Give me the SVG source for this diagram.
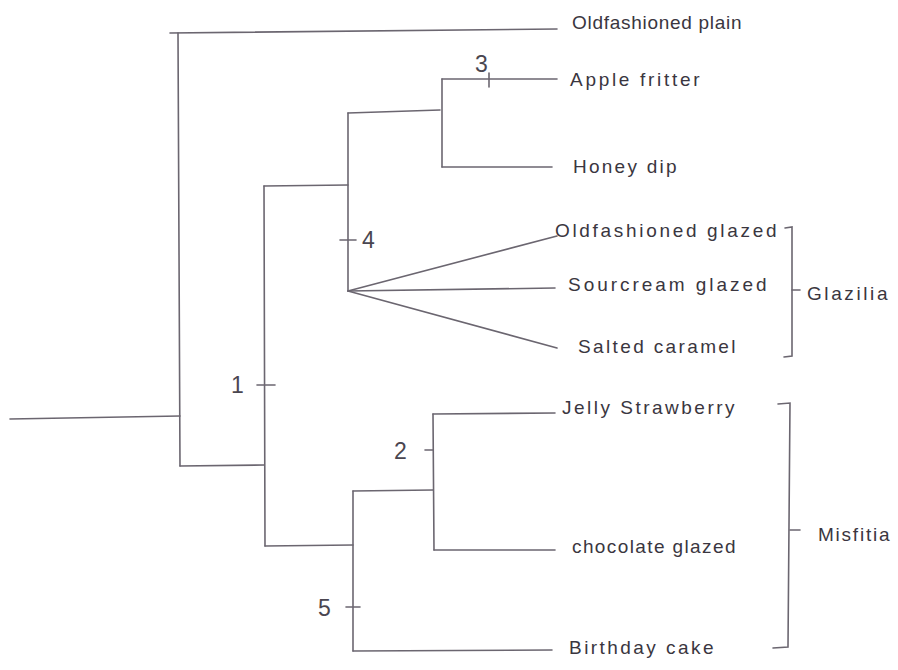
<svg xmlns="http://www.w3.org/2000/svg" width="898" height="670" viewBox="0 0 898 670">
<style>
.ln{stroke:#6b6670;stroke-width:1.6;fill:none;stroke-linecap:round}
.t{font-family:"Liberation Sans","DejaVu Sans",sans-serif;font-size:19px;fill:#3a3640;letter-spacing:0.5px}
.n{font-family:"Liberation Sans","DejaVu Sans",sans-serif;font-size:23px;fill:#4a4650}
</style>
<rect width="898" height="670" fill="#ffffff"/>
<g id="connectors" class="ln">
<path d="M10 419 L180 416"/>
<path d="M170 33 L557 29"/>
<path d="M178 33 L180 466"/>
<path d="M180 466 L264 465"/>
<path d="M264 186 L265 546"/>
<path d="M264 186 L348 185"/>
<path d="M257 385 L275 385"/>
<path d="M348 113 L348 291"/>
<path d="M348 113 L440 110"/>
<path d="M442 79 L442 167"/>
<path d="M442 79 L557 79"/>
<path d="M489 73 L489 87"/>
<path d="M442 167 L552 167"/>
<path d="M340 240 L356 240"/>
<path d="M348 291 L557 236"/>
<path d="M348 291 L555 288"/>
<path d="M348 291 L557 348"/>
<path d="M265 546 L353 545"/>
<path d="M353 491 L353 651"/>
<path d="M346 607 L360 607"/>
<path d="M353 491 L433 490"/>
<path d="M433 414 L434 550"/>
<path d="M425 450 L433 450"/>
<path d="M433 414 L555 413"/>
<path d="M434 550 L555 550"/>
<path d="M353 651 L552 650"/>
</g>
<g id="glazilia" class="ln">
<path d="M785 228 L792 227 L792 356 L784 357"/>
<path d="M792 290 L800 290"/>
</g>
<g id="misfitia" class="ln">
<path d="M778 404 L790 403 L788 647 L773 648"/>
<path d="M790 530 L800 530"/>
</g>
<g id="labels">
<text class="t" x="572" y="29" textLength="170">Oldfashioned plain</text>
<text class="t" x="570" y="86" textLength="130">Apple fritter</text>
<text class="t" x="573" y="173" textLength="104">Honey dip</text>
<text class="t" x="555" y="237" textLength="222">Oldfashioned glazed</text>
<text class="t" x="568" y="291" textLength="199">Sourcream glazed</text>
<text class="t" x="578" y="353" textLength="158">Salted caramel</text>
<text class="t" x="562" y="414" textLength="173">Jelly Strawberry</text>
<text class="t" x="572" y="553" textLength="164">chocolate glazed</text>
<text class="t" x="569" y="654" textLength="145">Birthday cake</text>
<text class="t" x="807" y="300" textLength="81">Glazilia</text>
<text class="t" x="818" y="541" textLength="72">Misfitia</text>
<text class="n" x="231" y="393">1</text>
<text class="n" x="394" y="459">2</text>
<text class="n" x="475" y="72">3</text>
<text class="n" x="362" y="248">4</text>
<text class="n" x="318" y="616">5</text>
</g>
</svg>
